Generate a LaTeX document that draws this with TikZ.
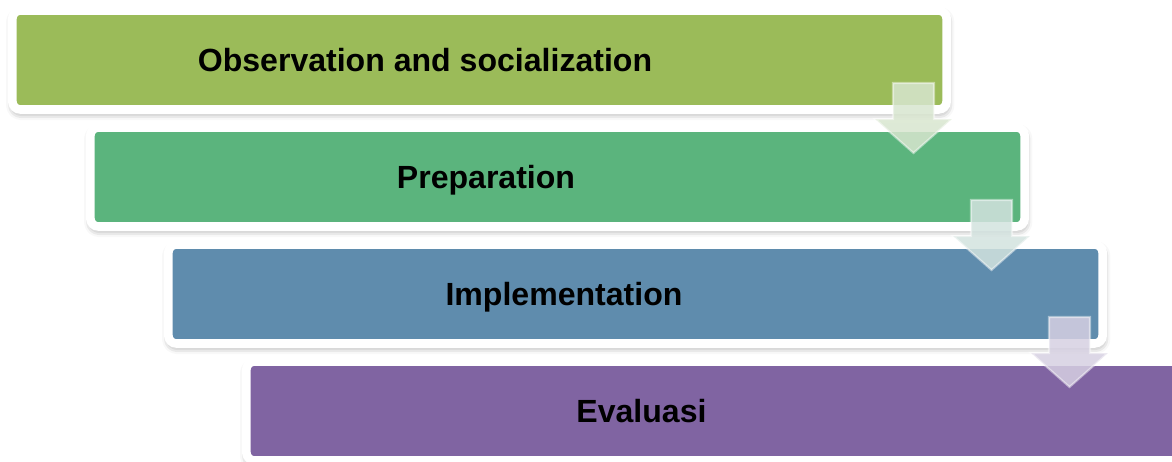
\documentclass[tikz,border=0pt]{standalone}
\usepackage{fontspec}
\setmainfont{Liberation Sans}
\usetikzlibrary{calc,shadows.blur}

\definecolor{obsgreen}{HTML}{9BBB59}
\definecolor{prepgreen}{HTML}{5BB47D}
\definecolor{implblue}{HTML}{5F8CAD}
\definecolor{evalpurple}{HTML}{8064A2}
\definecolor{tintA}{HTML}{D8E6CF}
\definecolor{tintB}{HTML}{D3E3DF}
\definecolor{tintC}{HTML}{D6D0E2}

\begin{document}
\begin{tikzpicture}[x=0.025cm,y=-0.025cm,
    stage/.style={rectangle,rounded corners=0.2cm,draw=white,line width=0.215cm,
                  minimum width=23.35cm,minimum height=2.475cm,inner sep=0pt,
                  blur shadow={shadow xshift=0.5pt,shadow yshift=-2.5pt,
                               shadow blur radius=5pt,shadow opacity=45}},
    caption/.style={anchor=base,font=\fontsize{22.8}{27}\selectfont\bfseries},
    flowarrow/.style={fill opacity=0.85,draw=white,draw opacity=0.45,line width=1.5pt}]

  \useasboundingbox (0,0) rectangle (1172,461);

  % the four stages, each one step right and down
  \node[stage,fill=obsgreen]   (s1) at (479.5,60)  {};
  \node[stage,fill=prepgreen]  (s2) at (557.5,177) {};
  \node[stage,fill=implblue]   (s3) at (635.5,294) {};
  \node[stage,fill=evalpurple] (s4) at (713.5,411) {};

  \node[caption] (l1) at ($(s1.center)+(-54.5,11)$) {Observation and socialization};
  \node[caption] (l2) at ($(s2.center)+(-71.5,11)$) {Preparation};
  \node[caption] (l3) at ($(s3.center)+(-71.5,11)$) {Implementation};
  \node[caption] (l4) at ($(s4.center)+(-72,11)$)   {Evaluasi};

  % down arrows from each stage into the next
  \foreach \s/\c in {s1/tintA,s2/tintB,s3/tintC}
    \filldraw[flowarrow,fill=\c]
      ($(\s.center)+(413.5,23)$) -- ($(\s.center)+(454.5,23)$)
      -- ($(\s.center)+(454.5,59)$) -- ($(\s.center)+(472.5,59)$)
      -- ($(\s.center)+(434,93)$)
      -- ($(\s.center)+(395.5,59)$) -- ($(\s.center)+(413.5,59)$) -- cycle;

\end{tikzpicture}
\end{document}
